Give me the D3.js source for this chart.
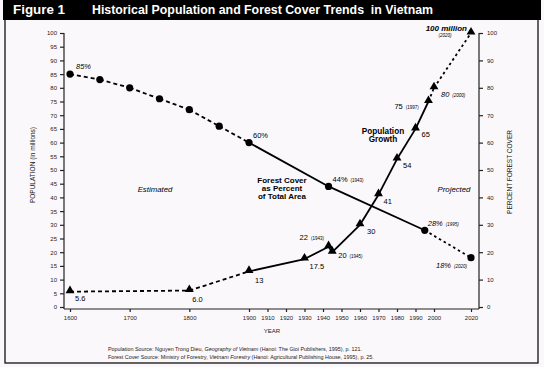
<!DOCTYPE html>
<html>
<head>
<meta charset="utf-8">
<script src="https://cdn.jsdelivr.net/npm/d3@7"></script>
<style>
  body { margin: 0; background: #fbf8fb; }
  svg { display: block; font-family: "Liberation Sans", Arial, sans-serif; }
</style>
</head>
<body>
<div id="chart"></div>
<script>
const WIDTH = 544;
const HEIGHT = 367;

// Forest cover, percent of total area.
var forestYears = [1600, 1650, 1700, 1750, 1800, 1850, 1900, 1943, 1995, 2020];
var forestPct = [85, 83, 80, 76, 72, 66, 60, 44, 28, 18];

// Population, millions.
var popYears = [1600, 1800, 1900, 1930, 1943, 1945, 1960, 1970, 1980, 1990, 1997, 2000, 2020];
var popMillions = [5.6, 6.0, 13, 17.5, 22, 20, 30, 41, 54, 65, 75, 80, 100];

var yearTicks = [1600, 1700, 1800, 1900, 1910, 1920, 1930, 1940, 1950, 1960, 1970, 1980, 1990, 2000, 2020];
var leftTicks = d3.range(0, 101, 5);
var rightTicks = d3.range(0, 101, 10);

var svg = d3.select("#chart").append("svg")
            .attr("width", WIDTH)
            .attr("height", HEIGHT);

// frame + title bar
svg.append("rect")
   .attr("x", 5).attr("y", 19).attr("width", 533).attr("height", 344)
   .attr("fill", "none").attr("stroke", "#111").attr("stroke-width", 1.3);
svg.append("rect")
   .attr("x", 3).attr("y", 0).attr("width", 538).attr("height", 20)
   .attr("fill", "#000");
svg.append("text").attr("x", 13).attr("y", 14)
   .attr("fill", "#fff").attr("font-weight", "bold").attr("font-size", "12px")
   .attr("textLength", 52).attr("lengthAdjust", "spacingAndGlyphs")
   .text("Figure 1");
svg.append("text").attr("x", 92).attr("y", 14)
   .attr("fill", "#fff").attr("font-weight", "bold").attr("font-size", "12px")
   .attr("textLength", 341).attr("lengthAdjust", "spacingAndGlyphs")
   .attr("xml:space", "preserve")
   .text("Historical Population and Forest Cover Trends  in Vietnam");

// x scale is broken: 60px per century before 1900, then 18.5px per decade
var x = d3.scaleLinear().domain([1600, 1900, 2020]).range([70, 249, 471]);
var y = d3.scaleLinear().domain([0, 100]).range([307, 33]);

var xAxis = svg.append("g")
   .attr("transform", "translate(0,309)")
   .call(d3.axisBottom(x).tickValues(yearTicks).tickFormat(d3.format("d")).tickSize(3).tickPadding(4));
xAxis.select(".domain").attr("d", "M64,0H479");

var yLeft = svg.append("g")
   .attr("transform", "translate(64,0)")
   .call(d3.axisLeft(y).tickValues(leftTicks).tickSize(4).tickPadding(3));
yLeft.select(".domain").attr("d", "M0,33V309");

var yRight = svg.append("g")
   .attr("transform", "translate(479,0)")
   .call(d3.axisRight(y).tickValues(rightTicks).tickSize(4).tickPadding(4));
yRight.select(".domain").attr("d", "M0,33V309");

svg.selectAll(".tick text").attr("font-size", "6px").attr("fill", "#222")
   .attr("font-family", "Liberation Sans, Arial, sans-serif");
svg.selectAll(".domain, .tick line").attr("stroke", "#222").attr("stroke-width", 1.2);

// axis titles
svg.append("text")
   .attr("transform", "translate(35,165) rotate(-90)")
   .attr("text-anchor", "middle").attr("font-size", "6.5px").attr("fill", "#222")
   .text("POPULATION (in millions)");
svg.append("text")
   .attr("transform", "translate(512,172) rotate(-90)")
   .attr("text-anchor", "middle").attr("font-size", "6.5px").attr("fill", "#222")
   .text("PERCENT FOREST COVER");
svg.append("text")
   .attr("x", 272).attr("y", 333)
   .attr("text-anchor", "middle").attr("font-size", "6px").attr("fill", "#222")
   .text("YEAR");

// line segments, dashed outside the measured years
function drawSegments(years, vals, lateYear) {
    for (var i = 0; i < years.length - 1; i++) {
        var dash = null;
        if (years[i] < 1900) dash = "4,3";
        else if (years[i] >= lateYear) dash = "2.5,3";
        svg.append("line")
           .attr("x1", x(years[i])).attr("y1", y(vals[i]))
           .attr("x2", x(years[i + 1])).attr("y2", y(vals[i + 1]))
           .attr("stroke", "#000").attr("stroke-width", 1.8)
           .attr("stroke-dasharray", dash);
    }
}
drawSegments(forestYears, forestPct, 1995);
drawSegments(popYears, popMillions, 1997);

svg.selectAll("circle.forest")
   .data(forestYears)
   .enter().append("circle")
   .attr("class", "forest")
   .attr("cx", function (d) { return x(d); })
   .attr("cy", function (d, i) { return y(forestPct[i]); })
   .attr("r", 3.6)
   .attr("fill", "#000");

var tri = d3.symbol().type(d3.symbolTriangle).size(34);
svg.selectAll("path.pop")
   .data(popYears)
   .enter().append("path")
   .attr("class", "pop")
   .attr("transform", function (d, i) { return "translate(" + x(d) + "," + (y(popMillions[i]) - 1) + ")"; })
   .attr("d", tri)
   .attr("fill", "#000");

// point label next to a mark
function label(px, py, dx, dy, txt, note, italic, anchor) {
    var t = svg.append("text")
       .attr("x", px + dx).attr("y", py + dy)
       .attr("font-size", "7.5px").attr("fill", "#000")
       .attr("text-anchor", anchor || "start")
       .attr("font-style", italic ? "italic" : "normal");
    t.append("tspan").text(txt);
    if (note) t.append("tspan").attr("font-size", "4.5px").attr("dx", 3).text(note);
    return t;
}

var popNotes = {1943: "(1943)", 1945: "(1945)", 1997: "(1997)", 2000: "(2000)"};
var popOffsets = {
    1600: [5, 9], 1800: [3, 11], 1900: [6, 12], 1930: [5, 10], 1943: [-29, -7],
    1945: [6, 6], 1960: [7, 9], 1970: [5, 9], 1980: [6, 9], 1990: [6, 8],
    1997: [-34, 7], 2000: [7, 9]
};
popYears.forEach(function (yr, i) {
    if (yr == 2020) return;
    var o = popOffsets[yr];
    var txt = popMillions[i] == 6 ? "6.0" : String(popMillions[i]);
    label(x(yr), y(popMillions[i]), o[0], o[1], txt, popNotes[yr], yr == 2000);
});
label(x(2020), y(100), -4, -2, "100 million", null, true, "end")
   .attr("font-weight", "bold").attr("font-size", "8px");
svg.append("text")
   .attr("x", x(2020) - 26).attr("y", y(100) + 4)
   .attr("text-anchor", "middle").attr("font-size", "4.5px").attr("font-style", "italic")
   .text("(2020)");

var forestNotes = {1943: "(1943)", 1995: "(1995)", 2020: "(2020)"};
var forestOffsets = {1600: [6, -5], 1900: [4, -5], 1943: [4, -4], 1995: [3, -4], 2020: [-35, 10]};
forestYears.forEach(function (yr, i) {
    var o = forestOffsets[yr];
    if (!o) return;
    label(x(yr), y(forestPct[i]), o[0], o[1], forestPct[i] + "%", forestNotes[yr],
          yr == 1600 || yr >= 1995);
});

// annotations
function block(cx, cy, lines, style, size, lead) {
    var t = svg.append("text")
       .attr("text-anchor", "middle").attr("font-size", size + "px")
       .attr("font-weight", style == "bold" ? "bold" : "normal")
       .attr("font-style", style == "italic" ? "italic" : "normal")
       .attr("fill", "#000");
    lines.forEach(function (l, i) {
        t.append("tspan").attr("x", cx).attr("y", cy + i * lead).text(l);
    });
}
block(282, 183, ["Forest Cover", "as Percent", "of Total Area"], "bold", 8, 8);
block(383, 134, ["Population", "Growth"], "bold", 8.2, 8.4);
block(155, 192, ["Estimated"], "italic", 7.8, 8);
block(454, 192, ["Projected"], "italic", 7.8, 8);

// sources
var src = svg.append("text").attr("font-size", "5.4px").attr("fill", "#222");
src.append("tspan").attr("x", 108).attr("y", 351).text("Population Source:  Nguyen Trong Dieu, ");
src.append("tspan").attr("font-style", "italic").text("Geography of Vietnam");
src.append("tspan").text(" (Hanoi: The Gioi Publishers, 1995), p. 121.");
var src2 = svg.append("text").attr("font-size", "5.4px").attr("fill", "#222");
src2.append("tspan").attr("x", 108).attr("y", 359).text("Forest Cover Source:  Ministry of Forestry, ");
src2.append("tspan").attr("font-style", "italic").text("Vietnam Forestry");
src2.append("tspan").text(" (Hanoi: Agricultural Publishing House, 1995), p. 25.");
</script>
</body>
</html>
